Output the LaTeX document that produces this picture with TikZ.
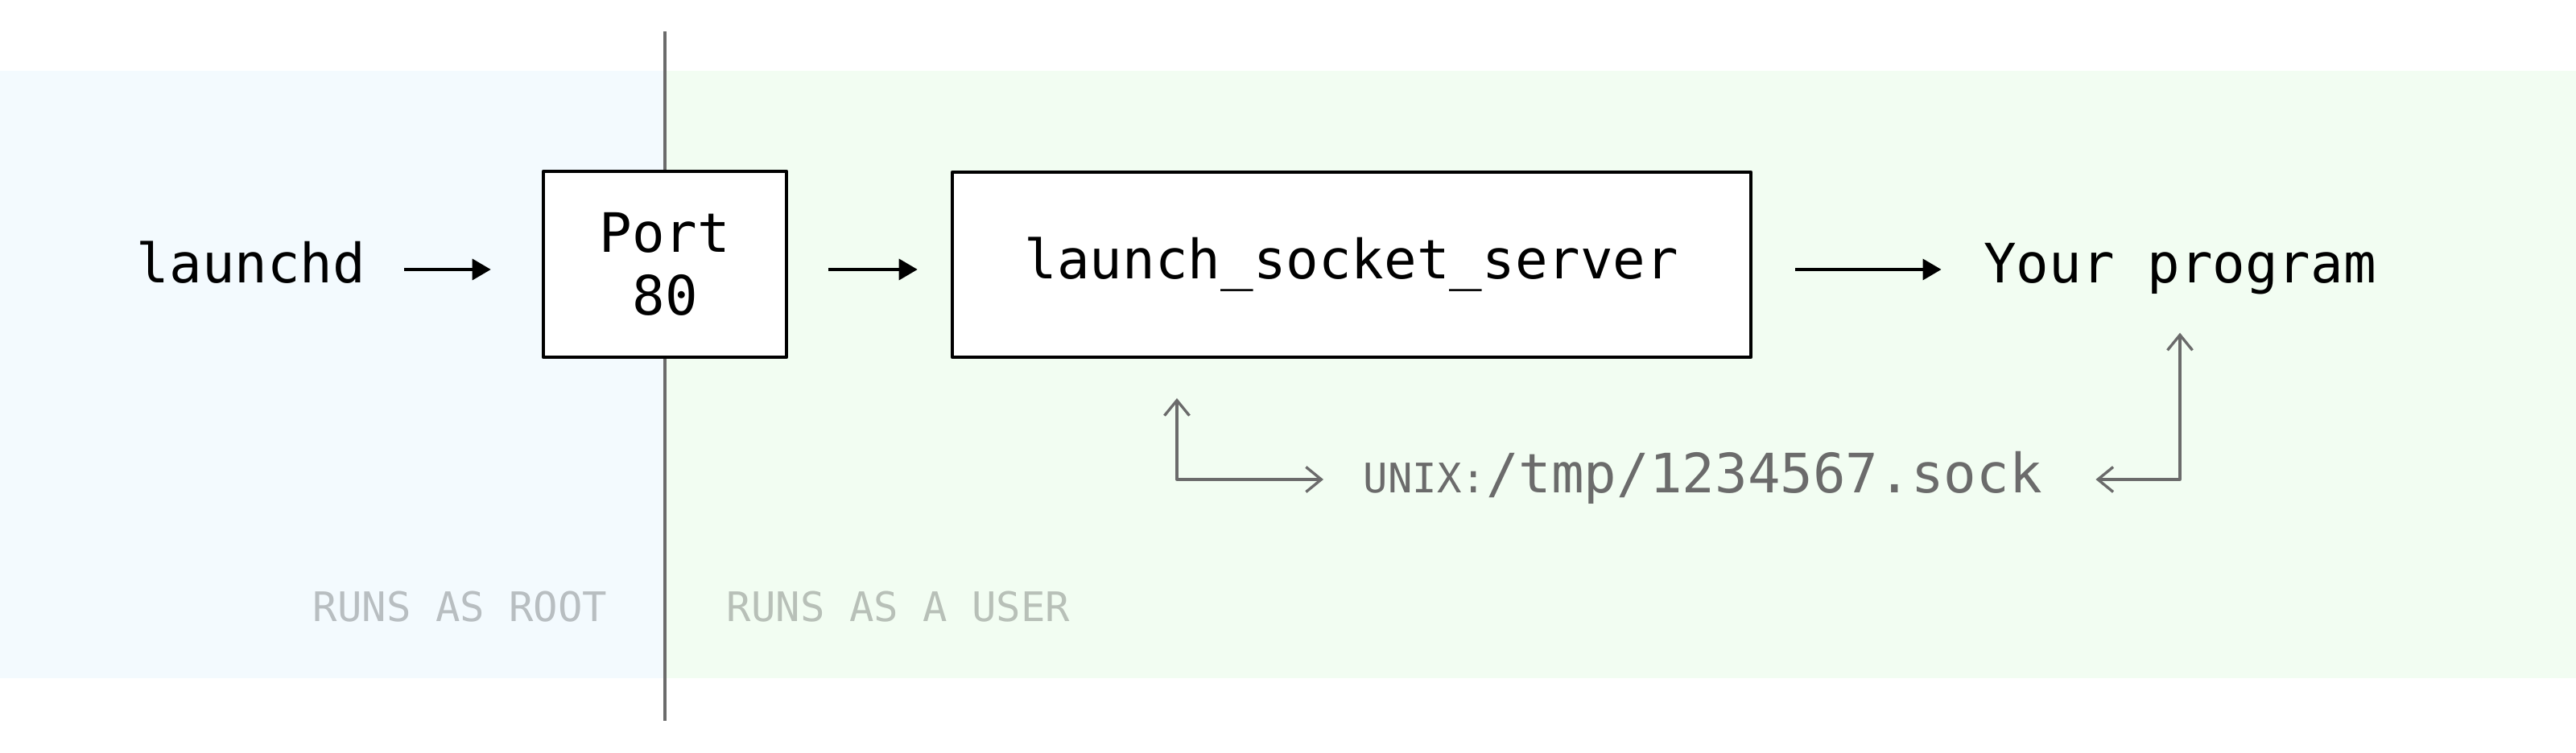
\documentclass[tikz,border=0pt]{standalone}
\usepackage{fontspec}
\setmonofont{DejaVu Sans Mono}
\usetikzlibrary{arrows.meta}
\definecolor{rootbg}{HTML}{F3FAFE}
\definecolor{userbg}{HTML}{F2FDF2}
\definecolor{sockgray}{HTML}{6B6B6B}
\begin{document}
\begin{tikzpicture}[>={Triangle[length=2.3mm,width=2.6mm]}, font=\ttfamily\fontsize{19.2}{22}\selectfont, line join=round,
	box/.style={draw, line width=1.3pt, fill=white, align=center, inner sep=0pt},
	txt/.style={inner sep=0pt, text height=0.5cm, text depth=0.16cm},
	arr/.style={->, line width=1pt},
	sockarr/.style={draw=sockgray, line width=0.95pt, {Straight Barb[length=1.9mm,width=3.1mm]}-{Straight Barb[length=1.9mm,width=3.1mm]}},
	zone/.style={anchor=base west, inner sep=0pt, text=black, text opacity=0.24, font=\ttfamily\fontsize{14.4}{16}\selectfont}]
	\def\xdiv{8.26} \def\ytop{8.48} \def\ybot{0.93} % vung nen
	\useasboundingbox (0,0) rectangle (32,9.36);
	\fill[rootbg] (0,\ybot) rectangle (\xdiv,\ytop);
	\fill[userbg] (\xdiv,\ybot) rectangle (32,\ytop);
	\draw[sockgray, line width=1pt] (\xdiv,8.97) -- (\xdiv,0.40);
	\node[txt] (launchd) at (3.12,6.01) {launchd};
	\node[box, minimum width=3.02cm, minimum height=2.31cm] (port) at (\xdiv,6.075) {Port\\80};
	\node[box, minimum width=9.92cm, minimum height=2.30cm] (server) at (16.79,6.07) {launch\_socket\_server};
	\node[txt] (prog) at (27.08,6.01) {Your program};
	\draw[arr, shorten <=0.47cm, shorten >=0.63cm] (launchd.east) -- (launchd.east -| port.west);
	\draw[arr, shorten <=0.50cm, shorten >=0.41cm] (port.east |- launchd) -- (server.west |- launchd);
	\draw[arr, shorten <=0.53cm, shorten >=0.52cm] (server.east |- prog) -- (prog.west);
	% socket
	\node[txt, anchor=base west, text=sockgray] (sock) at (16.93,3.23) {{\fontsize{14.4}{16}\selectfont UNIX:}/tmp/1234567.sock};
	\coordinate (srvsock) at (14.62,4.41);
	\draw[sockarr, shorten >=0.49cm] (srvsock) |- (sock.west);
	\draw[sockarr, shorten <=0.66cm, shorten >=0.45cm] (sock.east) -| (prog.south);
	\node[zone] (root) at (3.88,1.63) {RUNS AS ROOT};
	\node[zone] (user) at (9.02,1.63) {RUNS AS A USER};
\end{tikzpicture}
\end{document}
